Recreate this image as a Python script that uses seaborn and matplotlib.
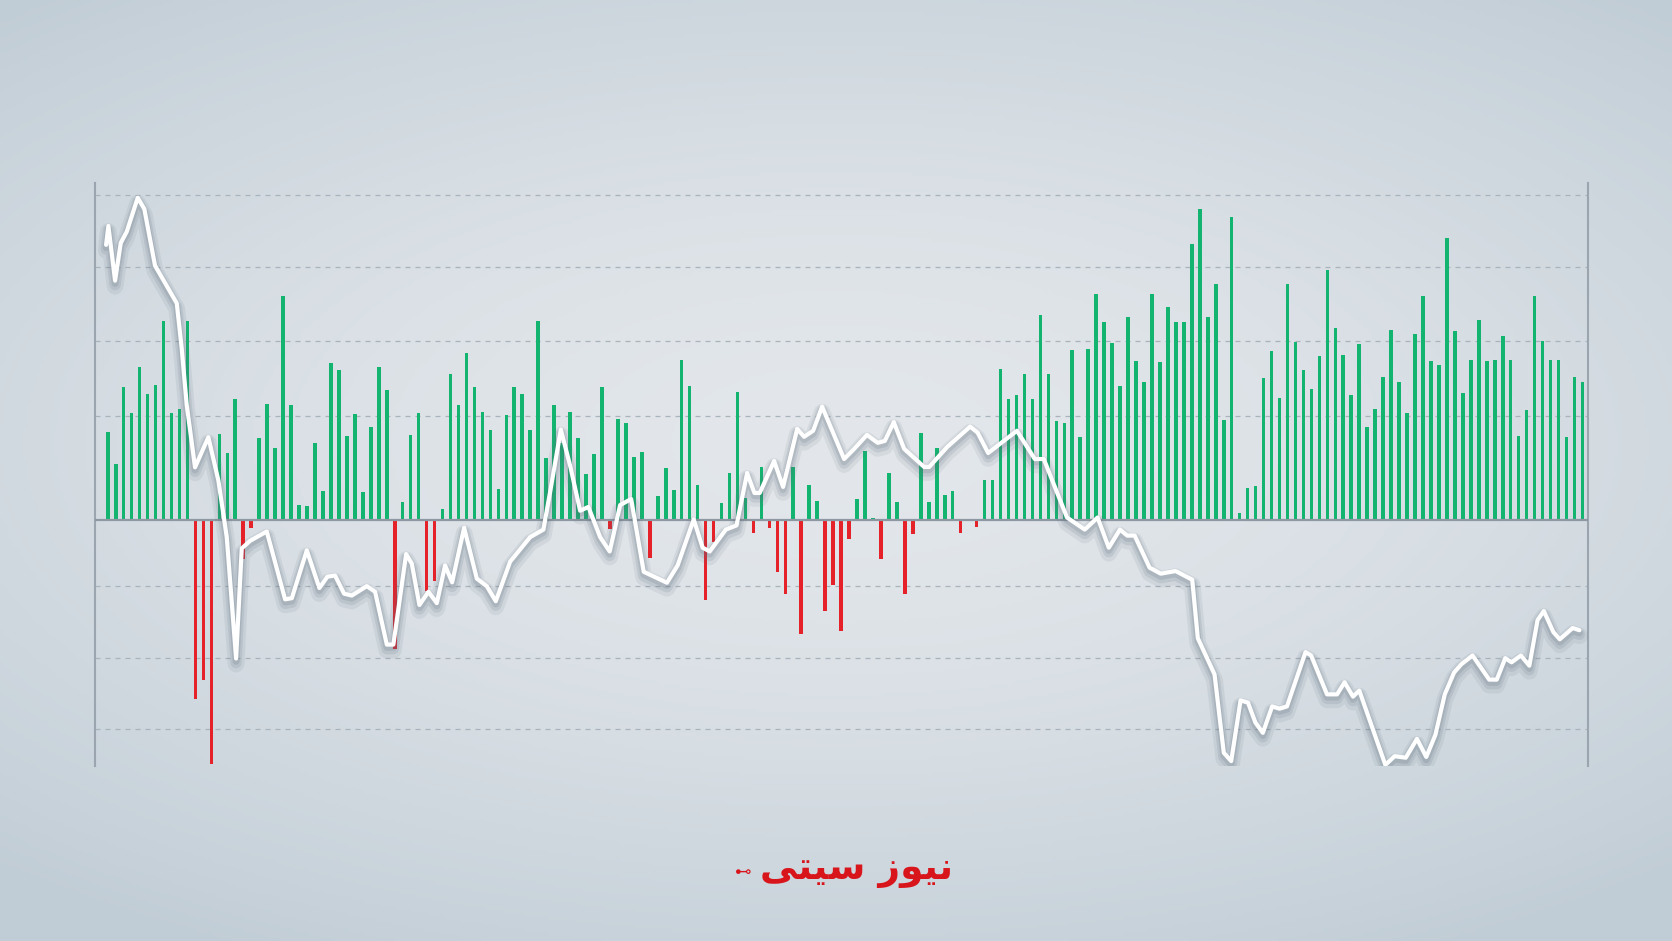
"""
Daily change bars with a running index line on top (news ticker style).
"""
import numpy as np
import pandas as pd
import matplotlib
matplotlib.use("Agg")
import matplotlib.pyplot as plt
import matplotlib.patheffects as pe
import seaborn as sns

# daily change, one bar per day
bar_values = [
    23.3, 15.0, 35.4, 28.5, 40.7, 33.5, 35.9, 52.7, 28.5, 29.5,
    52.8, -47.5, -42.3, -64.8, 22.8, 17.8, 32.0, -10.3, -2.0, 21.9,
    30.8, 19.2, 59.5, 30.5, 4.1, 3.7, 20.5, 7.7, 41.7, 39.7,
    22.2, 28.2, 7.5, 24.8, 40.7, 34.4, -34.1, 4.8, 22.7, 28.3,
    -18.8, -16.1, 2.9, 38.7, 30.5, 44.2, 35.4, 28.7, 23.8, 8.3,
    28.0, 35.3, 33.5, 23.8, 52.9, 16.5, 30.5, 20.5, 28.7, 21.7,
    12.3, 17.5, 35.4, -2.3, 26.9, 25.8, 16.8, 18.1, -10.0, 6.5,
    13.7, 8.0, 42.5, 35.5, 9.2, -21.1, -5.8, 4.5, 12.5, 34.0,
    6.0, -3.3, 14.0, -2.0, -13.7, -19.5, 14.0, -30.2, 9.2, 5.0,
    -24.0, -17.2, -29.5, -5.1, 5.6, 18.4, 0.5, -10.3, 12.5, 4.7,
    -19.5, -3.8, 23.0, 4.7, 19.2, 6.6, 7.7, -3.5, 0.0, -1.9,
    10.7, 10.7, 40.0, 32.0, 33.3, 38.7, 32.0, 54.5, 38.7, 26.4,
    25.8, 45.1, 22.1, 45.4, 60.0, 52.5, 46.9, 35.7, 53.9, 42.3,
    36.7, 60.0, 41.9, 56.6, 52.5, 52.5, 73.3, 82.4, 53.8, 62.7,
    26.6, 80.3, 1.8, 8.5, 9.0, 37.8, 44.9, 32.3, 62.7, 47.2,
    39.9, 34.7, 43.5, 66.2, 50.9, 43.8, 33.1, 46.6, 24.6, 29.5,
    38.0, 50.4, 36.7, 28.4, 49.3, 59.5, 42.3, 41.2, 74.8, 50.1,
    33.7, 42.4, 53.0, 42.2, 42.4, 48.8, 42.4, 22.4, 29.3, 59.5,
    47.6, 42.5, 42.5, 22.0, 37.9, 36.5,
]
bar_days = list(range(len(bar_values)))

# index line (day, level)
line_days = [
    -0.21, 0.08, 0.92, 1.63, 2.38, 3.76, 4.59, 5.93, 8.66, 9.28,
    9.91, 10.95, 12.62, 13.88, 14.93, 16.10, 16.81, 17.85, 19.95, 22.25,
    23.09, 24.97, 26.55, 27.55, 28.52, 29.65, 30.61, 32.50, 33.54, 35.01,
    35.83, 37.43, 38.14, 39.10, 40.23, 41.28, 42.32, 43.20, 44.71, 46.30,
    47.55, 48.68, 50.48, 52.99, 54.65, 55.50, 56.84, 58.00, 59.26, 60.30,
    61.77, 62.97, 64.28, 65.66, 67.24, 70.15, 71.49, 73.51, 74.63, 75.52,
    77.54, 78.88, 80.21, 81.13, 81.79, 83.60, 84.72, 86.49, 87.36, 88.49,
    89.62, 92.38, 93.64, 95.24, 96.59, 97.48, 98.61, 99.91, 102.42, 103.05,
    105.31, 108.19, 109.13, 110.45, 114.06, 116.30, 117.43, 120.34, 122.57, 124.18,
    125.58, 126.98, 127.89, 128.83, 130.70, 132.10, 133.96, 136.05, 136.75, 138.85,
    140.01, 140.94, 142.11, 143.05, 143.98, 144.91, 146.07, 147.00, 147.93, 150.26,
    150.97, 152.96, 154.22, 155.16, 156.22, 157.01, 160.28, 161.44, 162.84, 164.24,
    165.41, 166.56, 167.73, 168.90, 169.82, 171.22, 173.31, 174.25, 175.32, 176.11,
    177.28, 178.34, 179.37, 180.16, 181.36, 182.16, 183.78, 184.62,
]
line_values = [
    73.0, 78.0, 63.5, 73.5, 76.5, 85.5, 82.5, 67.5, 57.5, 45.5,
    30.5, 14.0, 22.0, 10.5, -4.5, -36.7, -7.5, -5.5, -3.0, -21.0,
    -20.7, -8.0, -18.0, -15.0, -14.7, -19.5, -20.0, -17.5, -19.0, -33.0,
    -33.0, -9.0, -11.5, -22.5, -19.0, -22.0, -12.0, -16.5, -2.0, -15.5,
    -17.5, -21.5, -11.0, -4.5, -2.5, 7.5, 24.0, 14.5, 2.5, 3.5,
    -4.5, -8.3, 4.0, 5.6, -13.7, -16.6, -12.0, 0.2, -7.3, -8.3,
    -2.5, -1.4, 12.5, 7.2, 7.2, 15.7, 8.8, 24.2, 22.1, 23.7,
    30.1, 16.2, 18.9, 22.6, 20.5, 21.0, 26.0, 18.9, 14.1, 14.1,
    19.4, 24.8, 23.2, 17.8, 23.7, 16.2, 16.2, 0.7, -2.5, 0.7,
    -7.3, -2.5, -4.1, -4.1, -12.6, -14.2, -13.5, -15.8, -31.3, -40.9,
    -61.7, -63.9, -47.8, -48.4, -53.7, -56.4, -49.4, -50.0, -49.4, -35.0,
    -35.9, -46.2, -46.2, -43.0, -46.8, -45.2, -64.9, -62.6, -63.0, -58.0,
    -62.8, -56.9, -46.2, -40.4, -38.2, -35.9, -42.3, -42.3, -36.6, -37.7,
    -35.9, -38.6, -26.5, -24.1, -29.7, -31.6, -28.6, -29.2,
]

# dashed guide levels
grid_levels = [86.2, 67.0, 47.5, 27.5, -17.5, -36.5, -55.3]

brand = "\uFEF0\uFE98\uFEF4\uFEB3 \uFEAF\uFEEE\uFEF4\uFEE7"  # نیوز سیتی, shaped
brand_mark = "\u22B7"

GREEN = "#13b46f"
RED = "#e5222a"

df = pd.DataFrame({"day": bar_days, "change": bar_values})
df["dir"] = np.where(df["change"] >= 0, "up", "down")
line_df = pd.DataFrame({"day": line_days, "level": line_values})

sns.set_theme(style="white")
plt.rcParams["font.family"] = ["DejaVu Sans", "Noto Sans"]

fig = plt.figure(figsize=(16.72, 9.41), dpi=100)

# soft grey-blue vignette behind everything
bg = fig.add_axes([0, 0, 1, 1], zorder=-10)
yy, xx = np.mgrid[0:1:300j, 0:1:500j]
r = np.sqrt(((xx - 0.5) / 0.75) ** 2 + ((yy - 0.47) / 0.62) ** 2)
r = np.clip(r, 0, 1)
inner = np.array([227, 231, 235]) / 255
outer = np.array([193, 205, 214]) / 255
img = inner[None, None, :] * (1 - r[..., None] ** 1.6) + outer[None, None, :] * r[..., None] ** 1.6
bg.imshow(img, aspect="auto", extent=[0, 1, 0, 1], origin="upper")
bg.axis("off")

ax = fig.add_axes([95 / 1672, 175 / 941, 1493 / 1672, 583 / 941])
ax.set_facecolor("none")

sns.barplot(data=df, x="day", y="change", hue="dir", palette={"up": GREEN, "down": RED},
            native_scale=True, dodge=False, width=0.45, errorbar=None, legend=False,
            linewidth=0, saturation=1, ax=ax, zorder=3)

# soft drop shadow under the white line
shadow = [pe.SimpleLineShadow(offset=(0, -4), shadow_color="#5d6d7b", alpha=0.10, linewidth=12),
          pe.SimpleLineShadow(offset=(0, -3), shadow_color="#5d6d7b", alpha=0.14, linewidth=8),
          pe.SimpleLineShadow(offset=(0, -2), shadow_color="#5d6d7b", alpha=0.18, linewidth=5),
          pe.Normal()]
sns.lineplot(data=line_df, x="day", y="level", sort=False, estimator=None, color="white",
             lw=3.0, ax=ax, zorder=5, path_effects=shadow)

ax.axhline(0, color="#8d98a3", lw=1.6, zorder=4)
ax.set_yticks(grid_levels)
ax.yaxis.grid(True, ls=(0, (4, 4)), color="#a9b3bc", lw=0.9)
ax.xaxis.grid(False)
ax.set_ylim(-65.2, 89.4)
ax.set_xlim(-1.6, 185.7)
ax.tick_params(length=0, labelleft=False, labelbottom=False)
ax.set_xlabel("")
ax.set_ylabel("")
for side in ["top", "bottom"]:
    ax.spines[side].set_visible(False)
for side in ["left", "right"]:
    ax.spines[side].set_visible(True)
    ax.spines[side].set_color("#9aa5af")
    ax.spines[side].set_linewidth(1.5)

# logo at the bottom
fig.text(0.512, 0.075, brand, color="#d9151c", fontsize=27, fontweight="bold",
         ha="center", va="center")
fig.text(0.4445, 0.073, brand_mark, color="#d9151c", fontsize=12,
         ha="center", va="center")

fig.savefig("out.png", dpi=100)
